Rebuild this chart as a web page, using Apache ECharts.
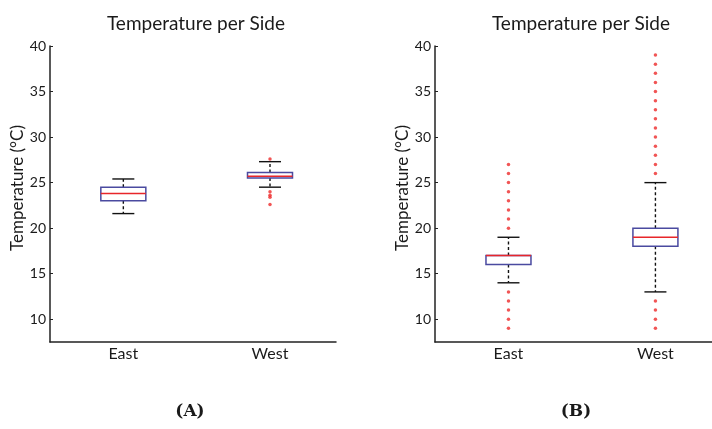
<!DOCTYPE html>
<html style="height: 100%">
<head>
<meta charset="utf-8">
<script src="https://cdn.jsdelivr.net/npm/echarts@6/dist/echarts.min.js"></script>
</head>
<body style="height: 100%; margin: 0; background: #fff">
<div id="container" style="width: 712px; height: 429px"></div>
<script>
// categories and tick labels
var sides = ['East', 'West'];
var yTicks = [10, 15, 20, 25, 30, 35, 40];

// panel A: [low whisker, q1, median, q3, high whisker]
var boxesA = [
    [21.6, 23.0, 23.8, 24.5, 25.4],
    [24.5, 25.5, 25.7, 26.1, 27.3]
];
var outliersA_east = [];
var outliersA_west = [27.6, 24.0, 23.6, 23.4, 22.6];

// panel B
var boxesB = [
    [14, 16, 17, 17, 19],
    [13, 18, 19, 20, 25]
];
var outliersB_east = [20, 21, 22, 23, 24, 25, 26, 27, 13, 12, 11, 10, 9];
var outliersB_west = [26, 27, 28, 29, 30, 31, 32, 33, 34, 35, 36, 37, 38, 39, 12, 11, 10, 9];

var font = 'Lato';

function boxData(boxes) {
    return boxes.map(function (b, i) { return [i + 1].concat(b); });
}
function outlierData(list, x) {
    return list.map(function (v) { return [x, v]; });
}

// matlab-like box: dashed black whiskers, black caps, blue box, red median
function renderBox(params, api) {
    var x = api.value(0);
    var lo = api.coord([x, api.value(1)]);
    var q1 = api.coord([x, api.value(2)]);
    var med = api.coord([x, api.value(3)]);
    var q3 = api.coord([x, api.value(4)]);
    var hi = api.coord([x, api.value(5)]);
    var cx = lo[0];
    var bw = 22.5, cw = 11;
    var dash = { stroke: '#111', lineWidth: 1.4, lineDash: [3, 2.5] };
    var solid = { stroke: '#111', lineWidth: 1.4 };
    return {
        type: 'group',
        children: [
            { type: 'line', shape: { x1: cx, y1: q3[1], x2: cx, y2: hi[1] }, style: dash },
            { type: 'line', shape: { x1: cx, y1: q1[1], x2: cx, y2: lo[1] }, style: dash },
            { type: 'line', shape: { x1: cx - cw, y1: hi[1], x2: cx + cw, y2: hi[1] }, style: solid },
            { type: 'line', shape: { x1: cx - cw, y1: lo[1], x2: cx + cw, y2: lo[1] }, style: solid },
            { type: 'rect', shape: { x: cx - bw, y: q3[1], width: bw * 2, height: q1[1] - q3[1] },
              style: { fill: '#fff', stroke: '#4a4aa0', lineWidth: 1.5 } },
            { type: 'line', shape: { x1: cx - bw, y1: med[1], x2: cx + bw, y2: med[1] },
              style: { stroke: '#e8262a', lineWidth: 1.5 } }
        ]
    };
}

function xAxis(gridIndex, max) {
    return {
        type: 'value', gridIndex: gridIndex, min: 0.5, max: max,
        splitLine: { show: false },
        axisLine: { show: true, lineStyle: { color: '#222', width: 1.5 } },
        axisTick: { show: false },
        axisLabel: {
            customValues: [1, 2], margin: 4,
            formatter: function (v) { return sides[Math.round(v) - 1]; },
            color: '#1a1a1a', fontFamily: font, fontSize: 16
        }
    };
}
function yAxis(gridIndex) {
    return {
        type: 'value', gridIndex: gridIndex, min: 7.5, max: 40,
        name: 'Temperature (°C)', nameLocation: 'middle', nameGap: 23,
        nameTextStyle: { color: '#1a1a1a', fontFamily: font, fontSize: 17, padding: [0, 0, 0, 12] },
        splitLine: { show: false },
        axisLine: { show: true, lineStyle: { color: '#222', width: 1.5 } },
        axisTick: { show: true, inside: true, length: 3, customValues: yTicks, lineStyle: { color: '#222' } },
        axisLabel: { customValues: yTicks, margin: 4, color: '#1a1a1a', fontFamily: font, fontSize: 14 }
    };
}

function outlierSeries(data, idx) {
    return {
        type: 'scatter', xAxisIndex: idx, yAxisIndex: idx, data: data,
        symbolSize: 3.5, itemStyle: { color: '#ee2b2b' }, z: 3
    };
}

var chart = echarts.init(document.getElementById('container'));
var option = {
    animation: false,
    backgroundColor: '#fff',
    title: [
        { text: 'Temperature per Side', left: 191, top: 9, textAlign: 'center',
          textStyle: { fontFamily: font, fontSize: 19, fontWeight: 'normal', color: '#1a1a1a' } },
        { text: 'Temperature per Side', left: 576, top: 9, textAlign: 'center',
          textStyle: { fontFamily: font, fontSize: 19, fontWeight: 'normal', color: '#1a1a1a' } },
        { text: '(A)', left: 185, top: 398, textAlign: 'center',
          textStyle: { fontFamily: 'DejaVu Serif', fontSize: 17, fontWeight: 'bold', color: '#1a1a1a' } },
        { text: '(B)', left: 571, top: 398, textAlign: 'center',
          textStyle: { fontFamily: 'DejaVu Serif', fontSize: 17, fontWeight: 'bold', color: '#1a1a1a' } }
    ],
    grid: [
        { left: 50, top: 46, width: 286, height: 296 },
        { left: 435, top: 46, width: 277, height: 296 }
    ],
    xAxis: [xAxis(0, 2.45), xAxis(1, 2.385)],
    yAxis: [yAxis(0), yAxis(1)],
    series: [
        { type: 'custom', xAxisIndex: 0, yAxisIndex: 0, renderItem: renderBox, data: boxData(boxesA), z: 2 },
        { type: 'custom', xAxisIndex: 1, yAxisIndex: 1, renderItem: renderBox, data: boxData(boxesB), z: 2 },
        outlierSeries(outlierData(outliersA_east, 1), 0),
        outlierSeries(outlierData(outliersA_west, 2), 0),
        outlierSeries(outlierData(outliersB_east, 1), 1),
        outlierSeries(outlierData(outliersB_west, 2), 1)
    ]
};
chart.setOption(option);
</script>
</body>
</html>
